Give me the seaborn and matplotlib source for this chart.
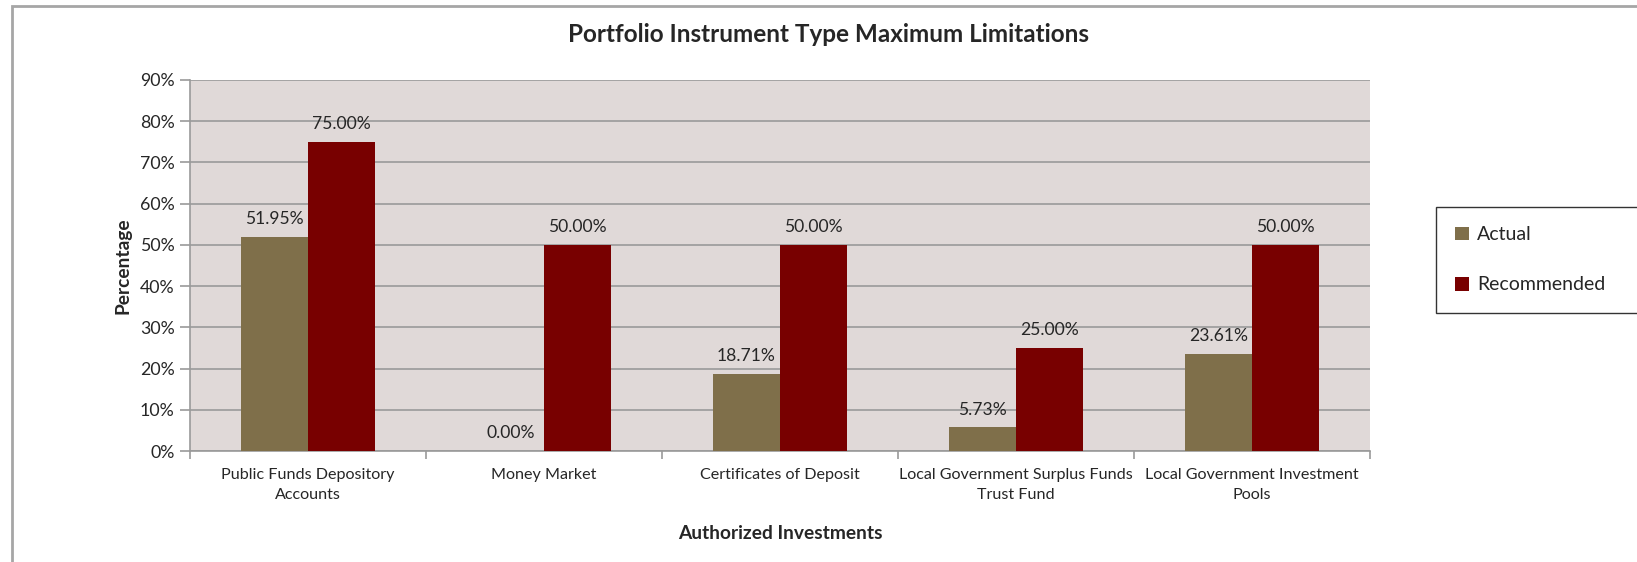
import pandas as pd
import matplotlib.pyplot as plt
import seaborn as sns
from matplotlib.patches import Rectangle

categories = ["Public Funds Depository\nAccounts", "Money Market", "Certificates of Deposit",
              "Local Government Surplus Funds\nTrust Fund", "Local Government Investment\nPools"]
actual = [51.95, 0.00, 18.71, 5.73, 23.61]
recommended = [75.00, 50.00, 50.00, 25.00, 50.00]
series = ["Actual", "Recommended"]
colors = ["#7F6F4A", "#780000"]

df = pd.DataFrame({
    "Investment": categories * 2,
    "Series": [series[0]] * len(categories) + [series[1]] * len(categories),
    "Value": actual + recommended,
})

sns.set_style("white")
plt.rcParams['font.family'] = ['Lato', 'DejaVu Sans']

fig = plt.figure(figsize=(16.37, 5.62), dpi=100)
ax = fig.add_axes([190 / 1637, 1 - 451 / 562, (1370 - 190) / 1637, (451 - 80) / 562])

# outer chart border
fig.patches.append(Rectangle((12 / 1637, -0.1), 1.1, 1 - 6 / 562 + 0.1, transform=fig.transFigure,
                             fill=False, edgecolor="#A6A6A6", linewidth=2, zorder=0))

sns.barplot(data=df, x="Investment", y="Value", hue="Series", palette=colors,
            width=0.57, saturation=1, linewidth=0, ax=ax, legend=True, zorder=3)

ax.set_facecolor("#E0D9D8")
ax.set_ylim(0, 90)
ax.set_xlim(-0.5, len(categories) - 0.5)
ax.set_yticks(range(0, 91, 10))
ax.set_yticklabels([f"{v}%" for v in range(0, 91, 10)], fontsize=12.8)
ax.yaxis.grid(True, color="#9A9A9A", linewidth=1.2, zorder=0)
ax.set_axisbelow(True)
ax.tick_params(axis="y", which="major", length=7, color="#9A9A9A", width=1.2, pad=4, left=True)
ax.set_xticks(range(len(categories)), labels=categories, linespacing=1.55)
ax.tick_params(axis="x", which="major", length=0, labelsize=11.6, pad=12)
ax.set_xticks([i - 0.5 for i in range(len(categories) + 1)], minor=True)
ax.tick_params(axis="x", which="minor", length=6, color="#9A9A9A", width=1.2, bottom=True)
for s in ["left", "bottom"]:
    ax.spines[s].set_color("#9A9A9A")
    ax.spines[s].set_linewidth(1.2)
for s in ["top", "right"]:
    ax.spines[s].set_visible(False)

for cont in ax.containers:
    ax.bar_label(cont, labels=[f"{v:.2f}%" for v in cont.datavalues], padding=7, fontsize=12.6)

ax.set_xlabel("Authorized Investments", fontsize=13.8, fontweight="bold", labelpad=17)
ax.set_ylabel("Percentage", fontsize=13.8, fontweight="bold", labelpad=6)
fig.text(828 / 1637, 1 - 34 / 562, "Portfolio Instrument Type Maximum Limitations",
         ha="center", va="center", fontsize=17.5, fontweight="bold")

handles, labels = ax.get_legend_handles_labels()
ax.legend_.remove()
leg = fig.legend(handles, labels, loc="upper left",
                 bbox_to_anchor=(1436 / 1637, 1 - 314 / 562, (1660 - 1436) / 1637, 107 / 562),
                 mode="expand", frameon=True, fancybox=False, edgecolor="black", fontsize=14,
                 handlelength=0.7, handleheight=0.7, handletextpad=0.4,
                 labelspacing=1.7, borderpad=1.0, borderaxespad=0)
leg.get_frame().set_linewidth(1)

fig.savefig("out.png", dpi=100)
